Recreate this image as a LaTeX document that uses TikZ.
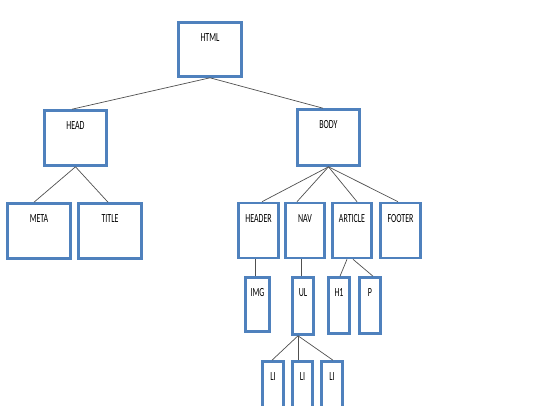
\documentclass[tikz,border=0pt]{standalone}
\usepackage{fontspec}
\setmainfont{Carlito}
\usepackage{graphicx}
\usetikzlibrary{calc}
\definecolor{boxblue}{HTML}{4F81BD}
\definecolor{linkgray}{HTML}{505050}
\newcommand\nm[1]{\scalebox{0.64}[1]{#1}}
\tikzset{
  box/.style={draw=boxblue, line width=2.6pt, fill=white, inner sep=0pt, rectangle},
  lbl/.style={anchor=center, yshift=-16.5pt, font=\fontsize{12.4}{14}\selectfont, text=black, inner sep=0pt},
  link/.style={draw=linkgray, line width=0.7pt}
}
\begin{document}
\begin{tikzpicture}[x=1pt,y=-1pt]
\clip (0,0) rectangle (540,405);
\fill[white] (0,0) rectangle (540,405);
% links (drawn first, boxes on top)
\coordinate (c1) at (0,0);
\node[box, minimum width=63pt, minimum height=54pt, label={[lbl]north:\nm{HTML}}] (html) at (210,49.5) {};
\node[box, minimum width=62pt, minimum height=55pt, label={[lbl]north:\nm{HEAD}}] (head) at (75.5,138) {};
\node[box, minimum width=62pt, minimum height=56pt, label={[lbl]north:\nm{BODY}}] (body) at (328.5,137.5) {};
\node[box, minimum width=63pt, minimum height=55pt, label={[lbl]north:\nm{META}}] (meta) at (39,231) {};
\node[box, minimum width=63pt, minimum height=55pt, label={[lbl]north:\nm{TITLE}}] (title) at (110,231) {};
\node[box, minimum width=40pt, minimum height=55pt, label={[lbl]north:\nm{HEADER}}] (header) at (258.5,230.5) {};
\node[box, minimum width=39pt, minimum height=55pt, label={[lbl]north:\nm{NAV}}] (nav) at (305,230.5) {};
\node[box, minimum width=39pt, minimum height=55pt, label={[lbl]north:\nm{ARTICLE}}] (article) at (352,230.5) {};
\node[box, minimum width=40pt, minimum height=55pt, label={[lbl]north:\nm{FOOTER}}] (footer) at (400.5,230.5) {};
\node[box, minimum width=24pt, minimum height=54pt, label={[lbl]north:\nm{IMG}}] (img) at (257.5,304.5) {};
\node[box, minimum width=21pt, minimum height=57pt, label={[lbl]north:\nm{UL}}] (ul) at (303,306) {};
\node[box, minimum width=21pt, minimum height=56pt, label={[lbl]north:\nm{H1}}] (h1) at (339,305.5) {};
\node[box, minimum width=21pt, minimum height=56pt, label={[lbl]north:\nm{P}}] (p) at (370,305.5) {};
\node[box, minimum width=21pt, minimum height=55pt, label={[lbl]north:\nm{LI}}] (li1) at (273,389) {};
\node[box, minimum width=20pt, minimum height=55pt, label={[lbl]north:\nm{LI}}] (li2) at (302.5,389) {};
\node[box, minimum width=21pt, minimum height=55pt, label={[lbl]north:\nm{LI}}] (li3) at (332,389) {};
% connectors
\draw[link] (html.south) -- ($(head.north)+(-3.5,0)$);
\draw[link] (html.south) -- ($(body.north)+(-5.5,0)$);
\draw[link] (head.south) -- ($(meta.north)+(-5,0)$);
\draw[link] (head.south) -- ($(title.north)+(-2,0)$);
\draw[link] (body.south) -- ($(header.north)+(3.5,0)$);
\draw[link] (body.south) -- ($(nav.north)+(-8,0)$);
\draw[link] (body.south) -- ($(article.north)+(5,0)$);
\draw[link] (body.south) -- ($(footer.north)+(-2.5,0)$);
\draw[link] ($(header.south)+(-3.5,0)$) -- ($(img.north)+(-2.5,0)$);
\draw[link] ($(nav.south)+(-4,0)$) -- ($(ul.north)+(-2,0)$);
\draw[link] ($(article.south)+(-5,0)$) -- ($(h1.north)+(1,0)$);
\draw[link] ($(article.south)+(1,0)$) -- ($(p.north)+(3,0)$);
\draw[link] ($(ul.south)+(-5,0)$) -- ($(li1.north)+(-1,0)$);
\draw[link] ($(ul.south)+(-5,0)$) -- ($(li2.north)+(-4.5,0)$);
\draw[link] ($(ul.south)+(-5,0)$) -- ($(li3.north)+(1,0)$);
\end{tikzpicture}
\end{document}
